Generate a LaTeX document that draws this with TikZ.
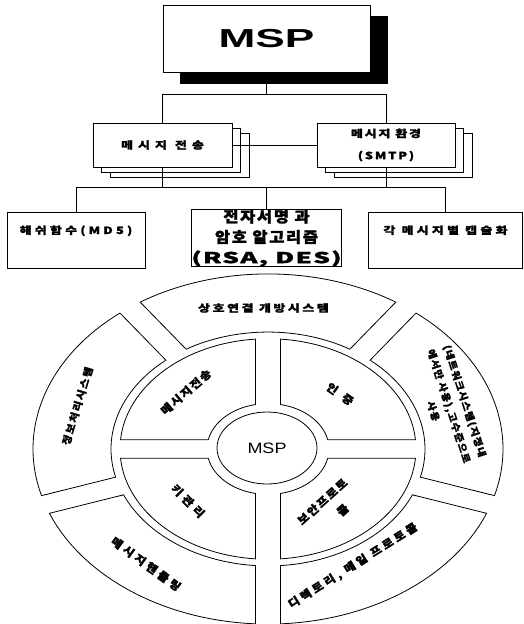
\documentclass[tikz,border=0pt]{standalone}
\usepackage{fontspec}
\usetikzlibrary{shapes.geometric,shadows}
\newfontfamily\krfont{Noto Sans CJK KR}[FakeBold=1.6]
\newfontfamily\bigsans{Liberation Sans}[FakeStretch=1.7]
\newfontfamily\midsans{Liberation Sans}[FakeStretch=1.2]
% ring segment: #1 start gap angle, #2 end gap angle, #3,#4 half gap widths, #5 outer radius, #6 inner radius
\newcommand{\ringseg}[6]{%
  \pgfmathsetmacro{\rsA}{#1+asin(#3/#5)}%
  \pgfmathsetmacro{\rsB}{#2-asin(#4/#5)}%
  \pgfmathsetmacro{\rsC}{#2-asin(#4/#6)}%
  \pgfmathsetmacro{\rsD}{#1+asin(#3/#6)}%
  \draw[seg] (\rsA:#5) arc[start angle=\rsA, end angle=\rsB, radius=#5]
    -- (\rsC:#6) arc[start angle=\rsC, end angle=\rsD, radius=#6] -- cycle;}
\begin{document}
\begin{tikzpicture}[x=1pt,y=-1pt,line width=0.8pt,
  box/.style={draw=black, fill=white, rectangle, inner sep=0pt, align=center},
  stackbox/.style={box,
    copy shadow={shadow xshift=17pt, shadow yshift=-10pt, draw=black, fill=white},
    copy shadow={shadow xshift=8.5pt, shadow yshift=-5pt, draw=black, fill=white}},
  kt/.style n args={4}{font=\krfont\bfseries\fontsize{#1}{#2}\selectfont\addfontfeatures{LetterSpace=#3,FakeStretch=#4}},
  seg/.style={draw=black, line width=0.8pt},
  wire/.style={draw=black, line width=0.7pt},
  lbl/.style={inner sep=0pt, align=center}]
\useasboundingbox (0,0) rectangle (524,624);

% ---------- tree part ----------
\node[box, minimum width=207pt, minimum height=67pt,
  copy shadow={shadow xshift=17pt, shadow yshift=-11pt, draw=black, fill=black},
  font=\bigsans\bfseries\fontsize{26}{30}\selectfont] (msp) at (266.5,38.5) {MSP};

\node[stackbox, minimum width=139pt, minimum height=44pt, kt={10}{12}{50}{1.3}] (b1) at (162.5,145) {메시지 전송};
\node[stackbox, minimum width=138pt, minimum height=44pt, kt={10}{22}{18}{1.3}] (b2) at (386,145) {메시지 환경\\(SMTP)};

\node[box, minimum width=138pt, minimum height=56pt, text height=9pt, text depth=21pt, kt={10}{12}{32}{1.3}] (c1) at (76,240) {해쉬함수(MD5)};
\node[box, minimum width=137pt, minimum height=56pt, kt={15}{20.5}{11}{1.1}] (c2) at (266.5,238)
  {전자서명 과\\암호 알고리즘\\{\addfontfeatures{FakeStretch=1.75,LetterSpace=8}(RSA, DES)}};
\node[box, minimum width=154pt, minimum height=56pt, text height=9pt, text depth=21pt, kt={10}{12}{32}{1.3}] (c3) at (445.5,240) {각 메시지별 캡슐화};

\coordinate (bus1) at (0,94);
\coordinate (bus2) at (0,187);
\draw[wire] (msp.south) -- (msp.south |- bus1);
\draw[wire] (b1.north) -- (b1.north |- bus1) -- (b2.north |- bus1) -- (b2.north);
\draw[wire] (b1.east) -- (b2.west);
\draw[wire] (b1.south) -- (b1.south |- bus2);
\draw[wire] (b2.south) -- (b2.south |- bus2);
\draw[wire] (c1.north) -- (c1.north |- bus2) -- (c3.north |- bus2) -- (c3.north);
\draw[wire] (c2.north) -- (c2.north |- bus2);

% ---------- ring part ----------
\begin{scope}[shift={(268,449)}, y=-0.745pt]
  % outer ring
  \ringseg{-126}{-54}{12.5}{12.5}{235}{157}
  \ringseg{-54}{18.5}{12.5}{12.5}{235}{157}
  \ringseg{18.5}{90}{12.5}{12.5}{235}{157}
  \ringseg{90}{161.5}{12.5}{12.5}{235}{157}
  \ringseg{161.5}{234}{12.5}{12.5}{235}{157}
  % inner ring
  \ringseg{-180}{-90}{12.5}{12.5}{148}{61}
  \ringseg{-90}{0}{12.5}{12.5}{148}{61}
  \ringseg{0}{90}{12.5}{12.5}{148}{61}
  \ringseg{90}{180}{12.5}{12.5}{148}{61}
\end{scope}

\node[draw=black, ellipse, minimum width=100pt, minimum height=72pt, inner sep=0pt,
  font=\midsans\fontsize{15}{17}\selectfont] (core) at (267,448) {MSP};

% outer ring labels
\node[lbl, kt={10}{12}{25}{1.3}] (otop) at (263.5,308) {상호연결 개방시스템};
\node[lbl, kt={10}{12}{17}{1.1}, rotate=73] (oleft) at (77.5,406) {정보처리시스템};
\node[lbl, kt={9.5}{16.5}{12}{1.1}, rotate=-72] (oright) at (449,406) {(네트워크시스템(지정내\\에서만 사용),고수준으로\\사용};
\node[lbl, kt={11}{13}{29}{1.1}, rotate=-36] (obl) at (146,564) {메시지핸들링};
\node[lbl, kt={11}{13}{26}{1.1}, rotate=32] (obr) at (353,566) {디렉토리, 메일 프로토콜};

% inner ring labels
\node[lbl, kt={11}{13}{15}{1.1}, rotate=41] (itl) at (186,392) {메시지전송};
\node[lbl, kt={11}{13}{70}{1.1}, rotate=-35] (itr) at (340,394) {인증};
\node[lbl, kt={11}{13}{36}{1.1}, rotate=-45] (ibl) at (188,501) {키관리};
\node[lbl, kt={11}{20}{15}{1.1}, rotate=42] (ibr) at (329,509) {보안프로토\\\hspace*{19pt}콜};
\end{tikzpicture}
\end{document}
